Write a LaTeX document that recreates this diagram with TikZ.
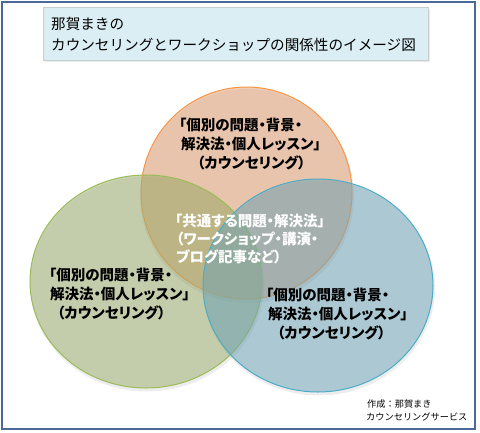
\documentclass[tikz,border=0pt]{standalone}
\usepackage{fontspec}
\setmainfont{Noto Sans CJK JP}[RawFeature=+palt]
\newfontfamily\jpfull{Noto Sans CJK JP}
\definecolor{frameblue}{RGB}{74,104,152}
\definecolor{titlefill}{RGB}{219,238,244}
\definecolor{titleline}{RGB}{200,205,208}
\definecolor{orline}{RGB}{247,150,70}
\definecolor{orfill}{RGB}{226,156,106}
\definecolor{grline}{RGB}{155,187,89}
\definecolor{grfill}{RGB}{156,174,106}
\definecolor{blline}{RGB}{75,172,198}
\definecolor{blfill}{RGB}{108,166,186}
\tikzset{
  vtxt/.style={anchor=west, inner sep=0pt, font=\fontsize{14.5}{17}\selectfont\bfseries},
  ctxt/.style={vtxt, text=white},
  ttxt/.style={anchor=west, inner sep=0pt, font=\jpfull\fontsize{14.6}{17}\selectfont},
  stxt/.style={anchor=west, inner sep=0pt, font=\jpfull\fontsize{9.2}{11}\selectfont},
  venn/.style={fill opacity=0.5, line width=1pt},
  shade/.style={fill=black, fill opacity=0.07, draw=none}
}
\begin{document}
\begin{tikzpicture}[x=1pt, y=-1pt]
\useasboundingbox (0,0) rectangle (480,432);
\fill[white] (0,0) rectangle (480,432);
% outer frame
\draw[frameblue, line width=2pt] (2,2) rectangle (475,429);
% title box
\fill[black, opacity=0.08] (45,9) rectangle (430,62);
\draw[titleline, fill=titlefill, line width=0.8pt] (43,7) rectangle (428,60);
\node[ttxt] (t1) at (51,24) {那賀まきの};
\node[ttxt] (t2) at (51,45) {カウンセリングとワークショップの関係性のイメージ図};
% shadows
\fill[shade] (247,196) ellipse [x radius=107, y radius=107];
\fill[shade] (147,284) ellipse [x radius=117, y radius=107.5];
\fill[shade] (319,288) ellipse [x radius=116, y radius=107.5];
% circles
\draw[venn, orline, fill=orfill] (246.5,193) ellipse [x radius=105.5, y radius=106];
\draw[venn, grline, fill=grfill] (146,281.5) ellipse [x radius=116, y radius=106.5];
\draw[venn, blline, fill=blfill] (318,285.5) ellipse [x radius=115, y radius=106.5];
% orange text
\node[vtxt] (o1) at (179,125) {「個別の問題・背景・};
\node[vtxt] (o2) at (181,144) {解決法・個人レッスン」};
\node[vtxt] (o3) at (197,163) {（カウンセリング）};
% green text
\node[vtxt] (g1) at (49,275) {「個別の問題・背景・};
\node[vtxt] (g2) at (50,294) {解決法・個人レッスン」};
\node[vtxt] (g3) at (57,313) {（カウンセリング）};
% blue text
\node[vtxt] (b1) at (266,295) {「個別の問題・背景・};
\node[vtxt] (b2) at (268,314) {解決法・個人レッスン」};
\node[vtxt] (b3) at (277,333) {（カウンセリング）};
% centre text
\node[ctxt] (c1) at (175,221) {「共通する問題・解決法」};
\node[ctxt] (c2) at (176,239) {（ワークショップ・講演・};
\node[ctxt] (c3) at (176,257) {ブログ記事など）};
% credit
\node[stxt] (s1) at (367,404) {作成：那賀まき};
\node[stxt] (s2) at (366,417) {カウンセリングサービス};
\end{tikzpicture}
\end{document}
